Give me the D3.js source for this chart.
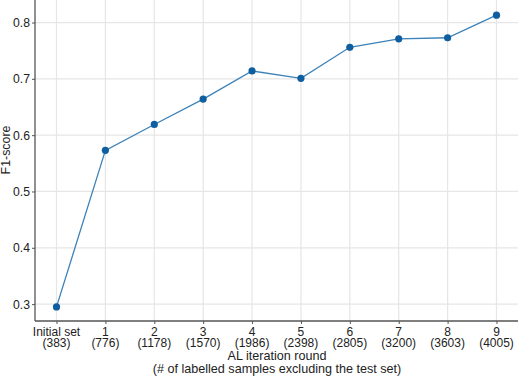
<!DOCTYPE html>
<html><head><meta charset="utf-8">
<script src="https://cdn.jsdelivr.net/npm/d3@7"></script>
<style>body{margin:0;background:#fff}svg{display:block}text{font-family:"Liberation Sans",Arial,sans-serif;fill:#222}</style>
</head><body><svg id="c" width="520" height="378"></svg>
<script>
const rounds = ["Initial set","1","2","3","4","5","6","7","8","9"];
const samples = ["(383)","(776)","(1178)","(1570)","(1986)","(2398)","(2805)","(3200)","(3603)","(4005)"];
const f1 = [0.295,0.573,0.619,0.664,0.714,0.701,0.756,0.771,0.773,0.813];
const yTicks = [0.3,0.4,0.5,0.6,0.7,0.8];

const svg = d3.select("#c");
const L=35, R=518, T=0, B=321;
const x = d3.scalePoint().domain(rounds).range([L,R]).padding(0.44);
const y = d3.scaleLinear().domain([0.270,0.840]).range([B,T]);

// grid
svg.append("g").selectAll("line.h").data(yTicks).join("line")
  .attr("x1",L).attr("x2",R).attr("y1",d=>y(d)).attr("y2",d=>y(d))
  .attr("stroke","#e6e6e6").attr("stroke-width",1.2);
svg.append("g").selectAll("line.v").data(rounds).join("line")
  .attr("x1",d=>x(d)).attr("x2",d=>x(d)).attr("y1",T).attr("y2",B)
  .attr("stroke","#e6e6e6").attr("stroke-width",1.2);

// axes
const ya = svg.append("g").attr("transform",`translate(${L},0)`)
  .call(d3.axisLeft(y).tickValues(yTicks).tickFormat(d3.format(".1f")).tickSize(3).tickPadding(2));
const xa = svg.append("g").attr("transform",`translate(0,${B})`)
  .call(d3.axisBottom(x).tickSize(3).tickFormat(""));
[ya,xa].forEach(a=>{a.select(".domain").attr("stroke","#555").attr("stroke-width",1.3);
  a.selectAll(".tick line").attr("stroke","#555");});
ya.selectAll(".tick text").attr("font-size",12.2).attr("fill","#222").style("font-family","Liberation Sans, Arial, sans-serif");
ya.select(".domain").attr("d",`M0,${B}V${T}`);
xa.select(".domain").attr("d",`M${L},0H${R}`);

// x labels
const xl = svg.append("g").selectAll("text").data(rounds).join("text")
  .attr("x",d=>x(d)).attr("text-anchor","middle").attr("font-size",12);
xl.append("tspan").attr("x",d=>x(d)).attr("y",335.5).text(d=>d);
xl.append("tspan").attr("x",d=>x(d)).attr("y",346.5).text((d,i)=>samples[i]);

// titles
svg.append("text").attr("x",277).attr("y",360).attr("text-anchor","middle").attr("font-size",12.6).text("AL iteration round");
svg.append("text").attr("x",277).attr("y",373).attr("text-anchor","middle").attr("font-size",12.6).text("(# of labelled samples excluding the test set)");
svg.append("text").attr("transform",`translate(10,150) rotate(-90)`).attr("text-anchor","middle").attr("font-size",12.4).text("F1-score");

// line
svg.append("path").datum(f1).attr("fill","none").attr("stroke","#3c82b8").attr("stroke-width",1.3)
  .attr("d",d3.line().x((d,i)=>x(rounds[i])).y(d=>y(d)));
svg.append("g").selectAll("circle").data(f1).join("circle")
  .attr("cx",(d,i)=>x(rounds[i])).attr("cy",d=>y(d)).attr("r",3.6).attr("fill","#0f5fa0");
</script></body></html>
